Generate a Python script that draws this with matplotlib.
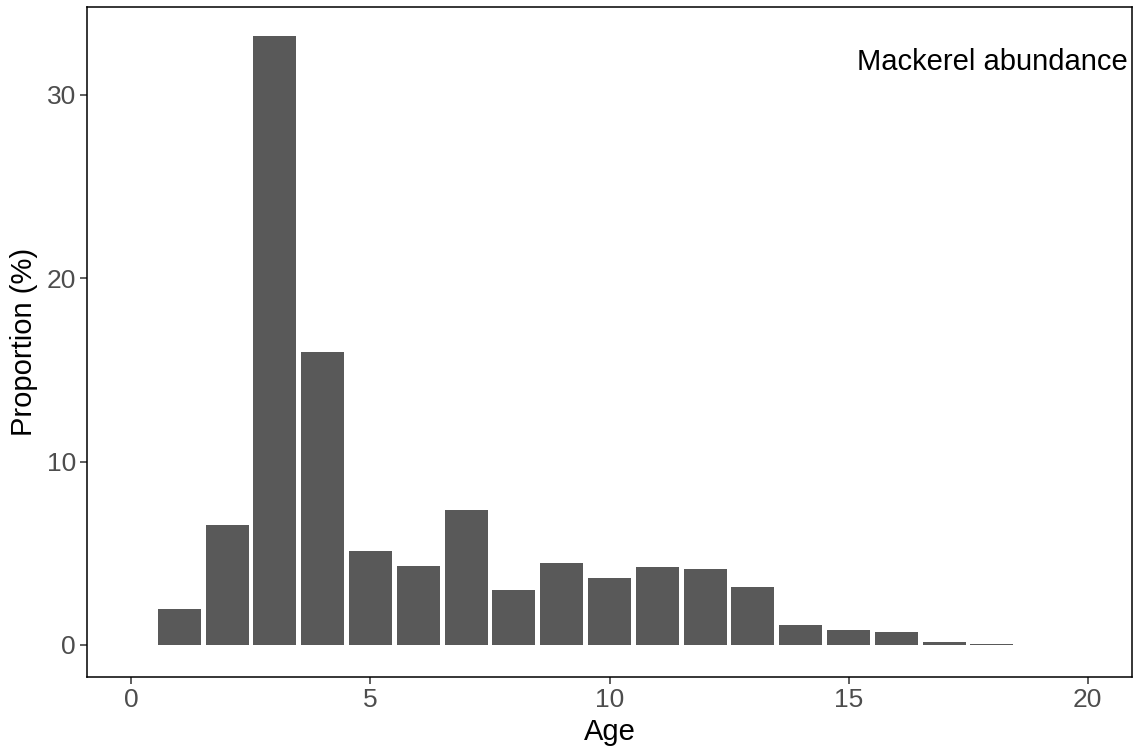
import matplotlib
matplotlib.use("Agg")
import matplotlib.pyplot as plt

ages = [1, 2, 3, 4, 5, 6, 7, 8, 9, 10, 11, 12, 13, 14, 15, 16, 17, 18]
proportion = [1.98, 6.55, 33.2, 16.0, 5.15, 4.31, 7.38, 3.0, 4.48, 3.66,
              4.26, 4.15, 3.16, 1.08, 0.84, 0.69, 0.16, 0.04]
x_ticks = [0, 5, 10, 15, 20]
y_ticks = [0, 10, 20, 30]
annotation = "Mackerel abundance"

plt.rcParams['font.family'] = ['Liberation Sans', 'DejaVu Sans']

fig = plt.figure(figsize=(11.34, 7.53), dpi=100)
ax = fig.add_axes([87/1134, 76/753, (1132-87)/1134, (677-7)/753])

ax.bar(ages, proportion, width=0.9, color='#595959', edgecolor='none')

ax.set_xlim(-0.93, 20.93)
ax.set_ylim(-1.75, 34.8)
ax.set_xticks(x_ticks)
ax.set_yticks(y_ticks)

for s in ax.spines.values():
    s.set_linewidth(1.1)
    s.set_color('black')

ax.tick_params(axis='both', length=5, width=1.1, color='#333333',
               labelcolor='#4D4D4D', labelsize=19, pad=3)

ax.set_xlabel('Age', fontsize=21, labelpad=4)
ax.set_ylabel('Proportion (%)', fontsize=21, labelpad=6)

ax.text(20.84, 31.8, annotation, ha='right', va='center', fontsize=21)

fig.savefig('out.png', dpi=100)
